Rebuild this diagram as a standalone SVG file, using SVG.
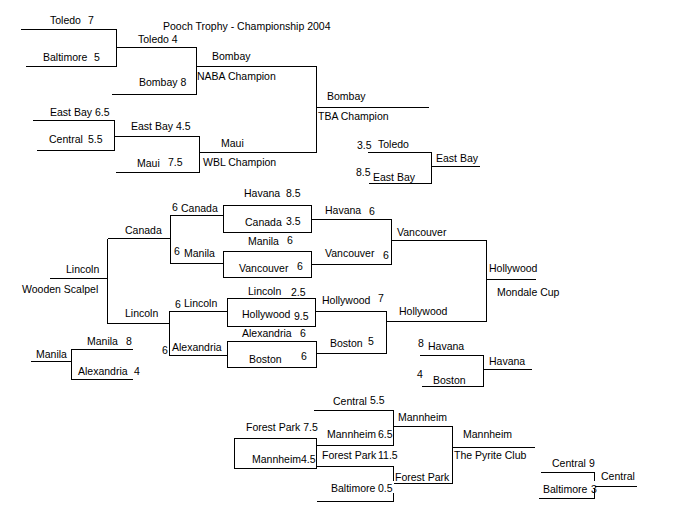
<svg xmlns="http://www.w3.org/2000/svg" width="687" height="524" viewBox="0 0 687 524">
<style>
text{font-family:"Liberation Sans",Arial,sans-serif;font-size:10.5px;fill:#000}
.l{fill:none;stroke:#000;stroke-width:1;shape-rendering:crispEdges}
</style>
<rect width="687" height="524" fill="#fff"/>
<g id="connectors" class="l">
<path d="M21,29.5H116.5V66.5H26M116.5,47.5H196.5M112,94.5H196.5V47.5M196.5,66.5H316.5V152.5H199.5M199.5,136.5V172.5H116M33,120.5H114.5V150.5H37M114.5,136.5H199.5M316.5,107.5H429"/>
<path d="M368,152.5H431.5V183.5H369M431.5,166.5H480"/>
<path d="M50,278.5H107.5M107.5,238.5V323.5M107.5,238.5H170.5M223.5,215.5H170.5V263.5H223.5M107.5,323.5H169.5M227.5,311.5H169.5V355.5H227.5"/>
<rect x="223.5" y="205.5" width="88" height="27"/>
<rect x="223.5" y="251.5" width="88" height="26"/>
<rect x="227.5" y="298.5" width="88" height="28"/>
<rect x="227.5" y="341.5" width="89" height="26"/>
<path d="M311.5,219.5H391.5V264.5H311.5M391.5,240.5H486.5V321.5H386.5M315.5,311.5H386.5V353.5H316.5M486.5,279.5H536"/>
<path d="M31,361.5H71.5M133,349.5H71.5V379.5H133"/>
<path d="M420,355.5H483.5V386.5H422M483.5,369.5H532"/>
<rect x="234.5" y="438.5" width="82" height="30"/>
<path d="M316.5,445.5H393.5V410.5H314M393.5,426.5H452.5V483.5H393.5M316.5,466.5H393.5V480.5M393.5,493V501.5H317M452.5,447.5H535"/>
<path d="M541,472.5H594.5V481M594.5,488V498.5H539M594.5,486.5H637"/>
</g>
<g id="title"><text x="163" y="30">Pooch Trophy - Championship 2004</text></g>
<g id="tba">
<text x="50" y="24">Toledo</text><text x="88" y="24">7</text>
<text x="43" y="61">Baltimore</text><text x="94" y="61">5</text>
<text x="138" y="43">Toledo 4</text>
<text x="139" y="86">Bombay 8</text>
<text x="212" y="60">Bombay</text>
<text x="197" y="80">NABA Champion</text>
<text x="50" y="116">East Bay 6.5</text>
<text x="49" y="143">Central</text><text x="88" y="143">5.5</text>
<text x="131" y="130">East Bay 4.5</text>
<text x="137" y="167">Maui</text><text x="168" y="166">7.5</text>
<text x="221" y="147">Maui</text>
<text x="203" y="166">WBL Champion</text>
<text x="327" y="100">Bombay</text>
<text x="318" y="120">TBA Champion</text>
</g>
<g id="tba-consolation">
<text x="357" y="149">3.5</text><text x="378" y="148">Toledo</text>
<text x="356" y="176">8.5</text><text x="373" y="181">East Bay</text>
<text x="436" y="162">East Bay</text>
</g>
<g id="mondale">
<text x="172" y="211">6</text><text x="181" y="212">Canada</text>
<text x="125" y="234">Canada</text>
<text x="174" y="255">6</text><text x="184" y="257">Manila</text>
<text x="66" y="273">Lincoln</text>
<text x="22" y="293">Wooden Scalpel</text>
<text x="175" y="308">6</text><text x="184" y="307">Lincoln</text>
<text x="125" y="317">Lincoln</text>
<text x="162" y="354">6</text><text x="172" y="351">Alexandria</text>
<text x="244" y="197">Havana</text><text x="286" y="197">8.5</text>
<text x="245" y="226">Canada</text><text x="286" y="225">3.5</text>
<text x="325" y="214">Havana</text><text x="369" y="215">6</text>
<text x="248" y="245">Manila</text><text x="287" y="244">6</text>
<text x="239" y="272">Vancouver</text><text x="297" y="270">6</text>
<text x="325" y="257">Vancouver</text><text x="383" y="259">6</text>
<text x="248" y="295">Lincoln</text><text x="291" y="296">2.5</text>
<text x="242" y="318">Hollywood</text><text x="294" y="320">9.5</text>
<text x="322" y="304">Hollywood</text><text x="378" y="302">7</text>
<text x="242" y="337">Alexandria</text><text x="300" y="337">6</text>
<text x="330" y="347">Boston</text><text x="368" y="345">5</text>
<text x="249" y="363">Boston</text><text x="301" y="360">6</text>
<text x="397" y="236">Vancouver</text>
<text x="399" y="315">Hollywood</text>
<text x="489" y="272">Hollywood</text>
<text x="497" y="296">Mondale Cup</text>
</g>
<g id="mondale-consolation-1">
<text x="36" y="358">Manila</text>
<text x="87" y="345">Manila</text><text x="126" y="345">8</text>
<text x="78" y="375">Alexandria</text><text x="134" y="375">4</text>
</g>
<g id="mondale-consolation-2">
<text x="418" y="347">8</text><text x="428" y="350">Havana</text>
<text x="417" y="378">4</text><text x="433" y="384">Boston</text>
<text x="489" y="365">Havana</text>
</g>
<g id="pyrite">
<text x="333" y="405">Central</text><text x="370" y="404">5.5</text>
<text x="398" y="421">Mannheim</text>
<text x="246" y="431">Forest Park 7.5</text>
<text x="327" y="438">Mannheim</text><text x="378" y="438">6.5</text>
<text x="252" y="463">Mannheim</text><text x="301" y="463">4.5</text>
<text x="322" y="459">Forest Park</text><text x="378" y="459">11.5</text>
<text x="395" y="481">Forest Park</text>
<text x="331" y="492">Baltimore</text><text x="378" y="492">0.5</text>
<text x="463" y="438">Mannheim</text>
<text x="454" y="459">The Pyrite Club</text>
</g>
<g id="pyrite-consolation">
<text x="552" y="467">Central</text><text x="589" y="467">9</text>
<text x="543" y="493">Baltimore</text><text x="591" y="493">3</text>
<text x="601" y="480">Central</text>
</g>
</svg>
